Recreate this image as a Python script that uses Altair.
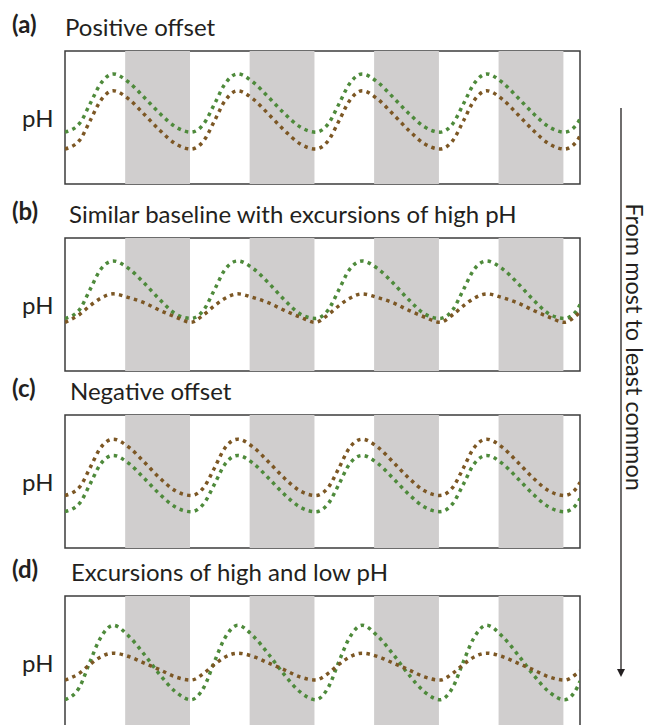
import altair as alt
import pandas as pd

# ---------------- data ----------------
# time axis (hours); one trough / peak cycle every ~24 h
TIME = [0, 2.8, 4.8, 6.8, 9.3, 12.3, 15.3, 18.3, 21.3,
        24.3, 26.8, 28.8, 30.8, 33.3, 36.3, 39.3, 42.3, 45.3,
        48.3, 50.8, 52.8, 54.8, 57.3, 60.3, 63.3, 66.3, 69.3,
        72.3, 74.8, 76.8, 78.8, 81.3, 84.3, 87.3, 90.3, 93.3,
        96.3, 98.8, 99.3]

# night (grey) bands
NIGHT_START = [11.6, 35.6, 59.6, 83.6]
NIGHT_END = [24.1, 48.1, 72.1, 96.1]

# relative pH values (arbitrary units, 0-10 across the panel)
A_GREEN = [3.9, 4.55, 6.0, 7.5, 8.28, 7.65, 6.5, 5.3, 4.3,
           3.9, 4.55, 6.0, 7.5, 8.28, 7.65, 6.5, 5.3, 4.3,
           3.9, 4.55, 6.0, 7.5, 8.28, 7.65, 6.5, 5.3, 4.3,
           3.9, 4.55, 6.0, 7.5, 8.28, 7.65, 6.5, 5.3, 4.3,
           3.9, 4.55, 4.9]
A_BROWN = [2.63, 3.28, 4.73, 6.23, 7.01, 6.38, 5.23, 4.03, 3.03,
           2.63, 3.28, 4.73, 6.23, 7.01, 6.38, 5.23, 4.03, 3.03,
           2.63, 3.28, 4.73, 6.23, 7.01, 6.38, 5.23, 4.03, 3.03,
           2.63, 3.28, 4.73, 6.23, 7.01, 6.38, 5.23, 4.03, 3.03,
           2.63, 3.28, 3.63]
B_GREEN = [3.95, 4.62, 6.1, 7.6, 8.27, 7.7, 6.6, 5.35, 4.3,
           3.95, 4.62, 6.1, 7.6, 8.27, 7.7, 6.6, 5.35, 4.3,
           3.95, 4.62, 6.1, 7.6, 8.27, 7.7, 6.6, 5.35, 4.3,
           3.95, 4.62, 6.1, 7.6, 8.27, 7.7, 6.6, 5.35, 4.3,
           3.95, 4.62, 5.0]
B_BROWN = [3.66, 4.25, 4.9, 5.45, 5.8, 5.52, 5.12, 4.56, 4.06,
           3.66, 4.25, 4.9, 5.45, 5.8, 5.52, 5.12, 4.56, 4.06,
           3.66, 4.25, 4.9, 5.45, 5.8, 5.52, 5.12, 4.56, 4.06,
           3.66, 4.25, 4.9, 5.45, 5.8, 5.52, 5.12, 4.56, 4.06,
           3.66, 4.25, 4.4]
C_BROWN = [3.95, 4.58, 6.0, 7.5, 8.18, 7.58, 6.45, 5.25, 4.3,
           3.95, 4.58, 6.0, 7.5, 8.18, 7.58, 6.45, 5.25, 4.3,
           3.95, 4.58, 6.0, 7.5, 8.18, 7.58, 6.45, 5.25, 4.3,
           3.95, 4.58, 6.0, 7.5, 8.18, 7.58, 6.45, 5.25, 4.3,
           3.95, 4.58, 4.95]
C_GREEN = [2.73, 3.36, 4.78, 6.28, 6.96, 6.36, 5.23, 4.03, 3.08,
           2.73, 3.36, 4.78, 6.28, 6.96, 6.36, 5.23, 4.03, 3.08,
           2.73, 3.36, 4.78, 6.28, 6.96, 6.36, 5.23, 4.03, 3.08,
           2.73, 3.36, 4.78, 6.28, 6.96, 6.36, 5.23, 4.03, 3.08,
           2.73, 3.36, 3.73]
D_GREEN = [2.2, 3.15, 5.05, 6.82, 7.8, 6.98, 5.6, 4.08, 2.8,
           2.2, 3.15, 5.05, 6.82, 7.8, 6.98, 5.6, 4.08, 2.8,
           2.2, 3.15, 5.05, 6.82, 7.8, 6.98, 5.6, 4.08, 2.8,
           2.2, 3.15, 5.05, 6.82, 7.8, 6.98, 5.6, 4.08, 2.8,
           2.2, 3.15, 3.6]
D_BROWN = [3.68, 4.2, 4.85, 5.4, 5.7, 5.45, 4.95, 4.45, 3.92,
           3.68, 4.2, 4.85, 5.4, 5.7, 5.45, 4.95, 4.45, 3.92,
           3.68, 4.2, 4.85, 5.4, 5.7, 5.45, 4.95, 4.45, 3.92,
           3.68, 4.2, 4.85, 5.4, 5.7, 5.45, 4.95, 4.45, 3.92,
           3.68, 4.2, 4.35]

LABELS = ["(a)", "(b)", "(c)", "(d)"]
TITLES = ["Positive offset",
          "Similar baseline with excursions of high pH",
          "Negative offset",
          "Excursions of high and low pH"]
Y_TITLE = "pH"
ARROW_TEXT = "From most to least common"

# ---------------- styling ----------------
FONT = "Lato"
INK = "#231f20"
GREEN = "#4e8a3b"
DARK_GREEN = "#315826"
BROWN = "#7c5724"
GOLD_BROWN = "#886529"
BAND = "#d0cece"
W, H = 515, 133

xscale = alt.Scale(domain=[0, 99.3], nice=False, zero=False)
yscale = alt.Scale(domain=[0, 10], nice=False, zero=False)

bands_df = pd.DataFrame({"start": NIGHT_START, "end": NIGHT_END})


def panel(i, green_vals, brown_vals, gcol, bcol, title_x, top_space):
    df = pd.DataFrame({
        "t": TIME * 2,
        "v": green_vals + brown_vals,
        "s": ["green"] * len(TIME) + ["brown"] * len(TIME),
    })
    bands = alt.Chart(bands_df).mark_rect(color=BAND).encode(
        x=alt.X("start:Q", scale=xscale, axis=None),
        x2="end:Q",
    )
    lines = alt.Chart(df).mark_line(
        strokeWidth=3.5, strokeDash=[3.5, 4.3], interpolate="monotone", clip=True
    ).encode(
        x=alt.X("t:Q", scale=xscale, axis=None),
        y=alt.Y("v:Q", scale=yscale, axis=alt.Axis(
            title=Y_TITLE, titleAngle=0, titleAlign="right", titleBaseline="alphabetic",
            titleX=-12, titleY=75, labels=False, ticks=False, domain=False, grid=False,
            titleFont=FONT, titleFontSize=24, titleFontWeight="normal", titleColor=INK)),
        color=alt.Color("s:N", scale=alt.Scale(domain=["green", "brown"], range=[gcol, bcol]),
                        legend=None),
        order=alt.Order("t:Q"),
    )
    lab = alt.Chart(pd.DataFrame({"txt": [LABELS[i]]})).mark_text(
        font=FONT, fontSize=24, fontWeight="bold", align="left", baseline="alphabetic", color=INK
    ).encode(x=alt.value(-53), y=alt.value(-18), text="txt:N")
    ttl = alt.Chart(pd.DataFrame({"txt": [TITLES[i]]})).mark_text(
        font=FONT, fontSize=24, align="left", baseline="alphabetic", color=INK
    ).encode(x=alt.value(title_x), y=alt.value(-15), text="txt:N")
    spacer = alt.Chart(pd.DataFrame({"k": [0]})).mark_rule(opacity=0).encode(
        x=alt.value(0), y=alt.value(-top_space), y2=alt.value(0))
    return alt.layer(bands, lines, lab, ttl, spacer).properties(width=W, height=H)


p_a = panel(0, A_GREEN, A_BROWN, GREEN, BROWN, 0, 41.5)
p_b = panel(1, B_GREEN, B_BROWN, GREEN, BROWN, 4, 51.75)
p_c = panel(2, C_GREEN, C_BROWN, DARK_GREEN, GOLD_BROWN, 5, 41.75)
p_d = panel(3, D_GREEN, D_BROWN, GREEN, BROWN, 6, 45.75)

panels = alt.vconcat(p_a, p_b, p_c, p_d, spacing=0)

one = pd.DataFrame({"txt": [ARROW_TEXT]})
arrow_line = alt.Chart(one).mark_rule(color=INK, strokeWidth=1.3).encode(
    x=alt.value(40), y=alt.value(57), y2=alt.value(619))
arrow_head = alt.Chart(one).mark_point(
    shape="M-1,-1L1,-1L0,1Z", filled=True, size=64, color=INK, opacity=1
).encode(x=alt.value(40), y=alt.value(622))
arrow_text = alt.Chart(one).mark_text(
    font=FONT, fontSize=23.5, angle=90, align="center", baseline="alphabetic", color=INK
).encode(x=alt.value(45), y=alt.value(296), text="txt:N")
arrow_anchor = alt.Chart(one).mark_rule(opacity=0).encode(
    x=alt.value(0), y=alt.value(0), y2=alt.value(1))
arrow = alt.layer(arrow_anchor, arrow_line, arrow_head, arrow_text).properties(
    width=40, height=660, view=alt.ViewBackground(strokeOpacity=0))

chart = alt.hconcat(panels, arrow, spacing=0).properties(
    padding={"left": 3, "top": 0, "right": 0, "bottom": 0}
).configure_view(stroke="#3c3c3c", strokeWidth=1.5)

chart.save("out.html", embed_options={"renderer": "svg", "actions": False})
